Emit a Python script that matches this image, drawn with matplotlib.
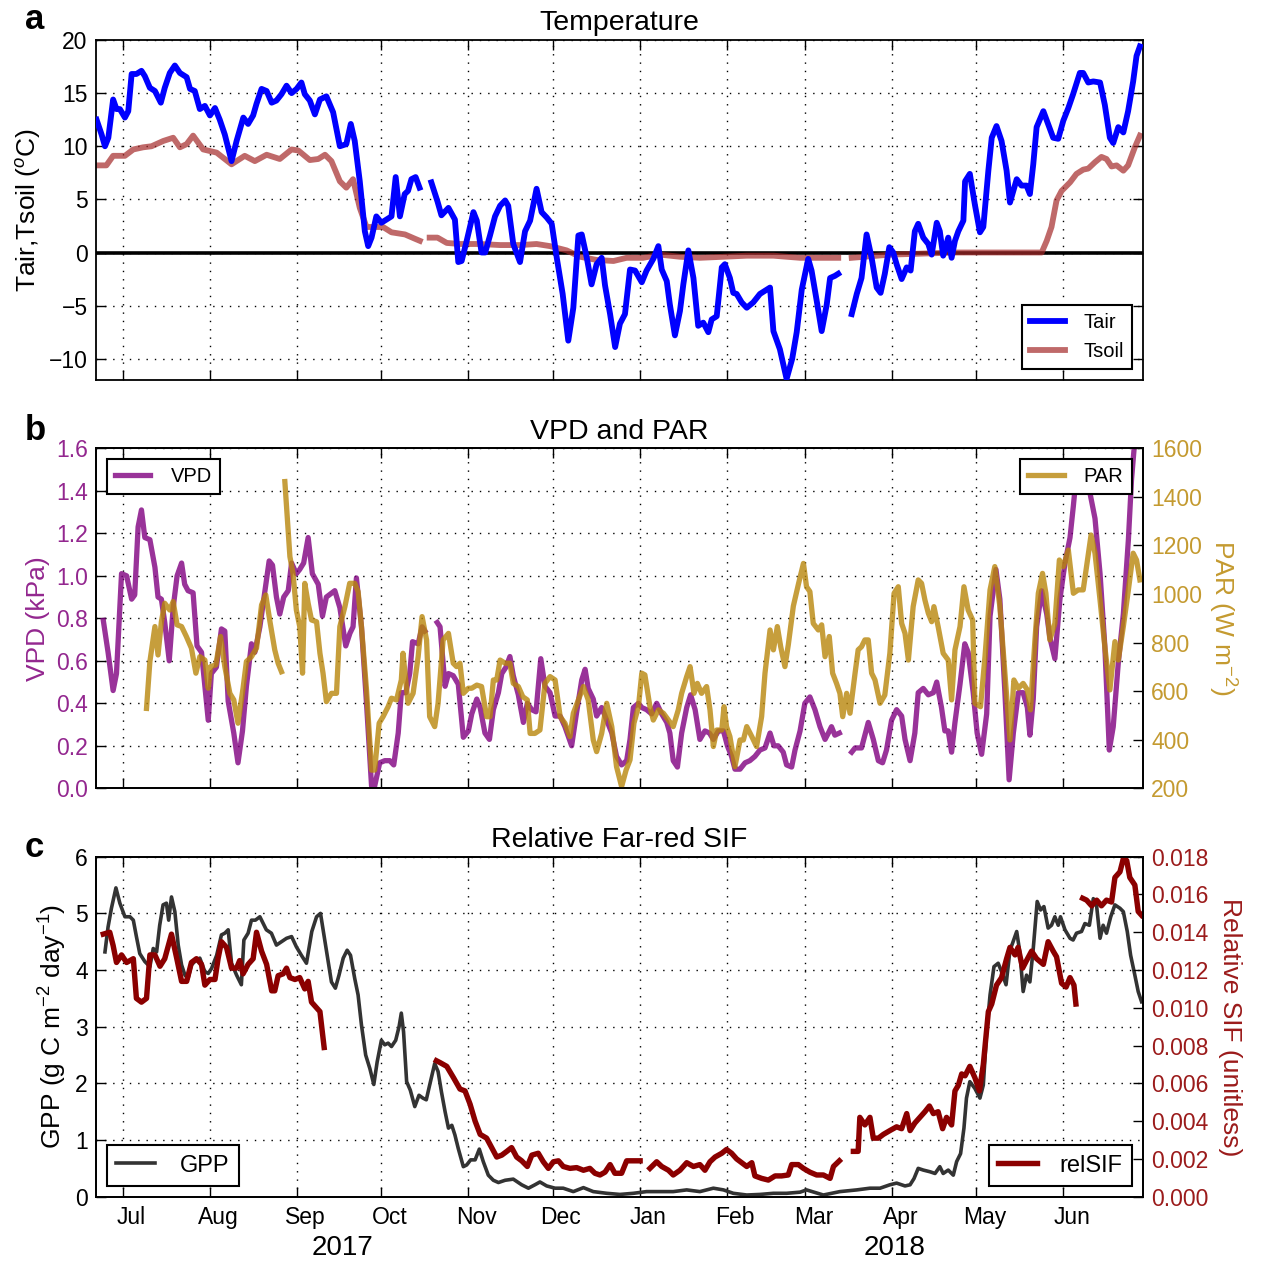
import numpy as np
import matplotlib
matplotlib.use("Agg")
import matplotlib.pyplot as plt
import matplotlib.dates as mdates
from matplotlib.ticker import NullFormatter, FormatStrFormatter
from datetime import datetime, timedelta

nan = np.nan
# day offsets are days since 2017-07-01
T0 = datetime(2017, 7, 1)

# ---------------- Panel a: temperature ----------------
tair_day = [-9.5, -7.7, -6.5, -5.3, -3.6, -2.4, -1.2, 0.6, 1.8, 3.0, 4.7, 6.5, 7.7, 9.5, 11.3, 13.4, 14.8, 16.6,
            18.4, 20.2, 22.6, 23.8, 25.5, 27.3, 29.1, 30.9, 32.7, 34.4, 36.2, 38.6, 40.4, 42.8, 44.5, 46.3, 47.5,
            49.3, 51.1, 52.9, 54.6, 56.4, 58.2, 60.0, 61.8, 63.5, 64.7, 66.5, 68.3, 70.1, 72.4, 74.8, 77.2, 79.5,
            81.1, 82.5, 84.3, 86.1, 87.3, 88.5, 90.2, 92.0, 93.8, 95.6, 97.1, 98.6, 100.3, 101.5, 102.7, 104.2,
            105.6, 107.7,
            109.8, 112.0, 113.4, 115.9, 118.2, 119.4, 120.6, 122.4, 124.8, 126.0, 127.7, 129.0, 130.7, 132.5,
            134.3, 136.1, 137.2, 139.0, 141.4, 143.2, 145.0, 147.3, 149.1, 150.9, 152.7, 154.5, 156.6, 158.6,
            160.4, 162.2, 163.4, 165.2, 166.9, 168.7, 170.5, 171.7, 173.5, 175.3, 177.0, 178.8, 180.6, 182.4,
            184.8, 186.5, 188.9, 190.7, 191.9, 193.7, 194.8, 196.6, 198.4, 199.6, 201.4, 203.2, 204.9, 206.7,
            208.5, 209.7, 211.5, 213.3, 214.4, 216.2, 217.4, 218.6, 220.4, 222.2, 224.5, 226.9, 228.7, 230.5,
            231.7, 234.0, 236.4, 238.4, 240.0, 241.8, 244.1, 245.3, 247.1, 248.9, 250.7, 251.9, 253.6, 254.8,
            257.0,
            259.6, 261.4, 263.1, 264.9, 266.7, 268.5, 269.9, 271.4, 273.0, 274.4, 275.6, 277.4, 279.2, 280.6,
            282.1, 283.3, 285.1, 286.9, 288.1, 289.9, 291.0, 292.2, 294.0, 295.2, 296.4, 297.6, 299.4, 300.0,
            301.7, 303.5, 305.3, 306.5, 308.3, 309.5, 311.2, 313.0, 314.8, 316.0, 317.2, 318.4, 320.1, 321.9,
            323.1, 324.3, 325.5, 327.9, 329.6, 331.4, 333.2, 335.0, 336.8, 338.5, 340.9, 342.1, 343.9, 345.7,
            348.1, 349.8, 351.6, 352.8, 354.6, 356.4, 358.1, 359.9, 361.1, 362.3]
tair = [12.5, 11.1, 10.0, 10.8, 14.4, 13.5, 13.5, 12.7, 13.3, 16.8, 16.8, 17.1, 16.6, 15.5, 15.2, 14.1, 15.5, 16.9,
        17.6, 16.9, 16.5, 15.4, 15.2, 13.5, 13.8, 12.9, 13.6, 12.5, 11.1, 8.6, 10.5, 12.7, 12.1, 12.9, 14.0,
        15.4, 15.2, 14.1, 14.3, 14.9, 15.7, 15.0, 15.4, 16.0, 14.9, 14.3, 13.0, 14.4, 14.7, 13.2, 10.0, 10.2,
        12.1, 10.5, 6.7, 2.0, 0.6, 1.4, 3.4, 2.8, 3.1, 3.4, 7.1, 3.4, 5.5, 5.8, 6.9, 7.1,
        6.1, nan,
        6.6, 4.8, 3.5, 4.2, 3.1, -0.9, -0.8, 1.1, 3.8, 3.0, 0.0, 0.0, 1.6, 3.4,
        4.4, 4.9, 4.4, 0.8, -0.9, 2.0, 3.0, 6.0, 3.8, 3.3, 2.7, -0.5, -3.9, -8.3,
        -5.2, 1.6, 1.7, -0.5, -3.0, -1.1, -0.5, -3.1, -5.8, -8.9, -6.7, -5.8, -1.6, -1.7,
        -2.8, -1.7, -0.6, 0.6, -1.6, -2.7, -4.9, -7.8, -5.5, -3.0, 0.2, -2.4, -6.9, -6.6,
        -7.5, -6.3, -6.0, -1.4, -1.1, -2.4, -3.8, -3.9, -4.7, -5.2, -4.7, -3.9, -3.6, -3.3,
        -7.4, -9.1, -11.9, -10.0, -7.5, -3.5, -0.6, -1.7, -4.5, -7.4, -4.9, -2.4, -2.2, -2.0,
        nan,
        -5.8, -3.9, -2.4, 1.7, -0.5, -3.3, -3.8, -2.0, 0.5, 0.0, -1.1, -2.5, -1.4, -1.7,
        2.0, 2.7, 1.4, 0.8, -0.2, 2.8, 2.0, -0.3, 1.4, -0.5, 1.1, 2.0, 3.0, 6.7,
        7.4, 4.5, 1.9, 2.4, 7.7, 10.8, 11.9, 10.5, 7.7, 4.7, 5.8, 6.9, 6.3, 6.3,
        5.5, 8.3, 11.8, 13.3, 12.1, 10.8, 10.7, 12.4, 13.6, 14.9, 16.9, 16.9, 16.0, 16.1,
        16.0, 13.9, 10.8, 10.3, 11.8, 11.3, 13.3, 16.1, 18.5, 19.4]

tsoil_day = [-9.5, -6.0, -3.6, 0.6, 3.6, 7.1, 10.1, 14.3, 17.8, 20.2, 22.6, 24.9, 28.5, 33.3, 38.6, 43.3, 46.9,
             51.1, 55.8, 60.0, 62.4, 66.5, 69.5, 71.9, 74.2, 77.2, 79.5, 81.9, 84.3, 86.7, 89.7, 92.6, 95.6,
             100.4, 103.9, 105.7, 107.5,
             109.2, 112.0, 115.3, 120.0, 127.1, 134.3, 141.4, 147.3, 152.1, 158.0, 162.8, 168.7, 174.7, 179.4,
             185.3, 191.3, 198.4, 205.5, 213.9, 222.2, 231.7, 241.2, 254.8, 257.0,
             259.6, 273.2, 285.1, 297.0, 327.3, 329.1, 330.8, 332.6, 334.4, 337.4, 339.7, 342.1, 343.9, 346.3,
             348.6, 350.4, 352.2, 354.0, 356.4, 358.1, 360.5, 362.3]
tsoil = [8.2, 8.2, 9.1, 9.1, 9.7, 9.9, 10.0, 10.5, 10.8, 9.9, 10.2, 11.0, 9.7, 9.4, 8.3, 9.1, 8.6,
         9.2, 8.8, 9.7, 9.6, 8.7, 8.8, 9.2, 8.6, 6.7, 6.1, 6.9, 4.2, 2.4, 2.4, 2.4, 1.9,
         1.7, 1.3, 1.1, nan,
         1.4, 1.4, 0.9, 0.8, 0.8, 0.7, 0.7, 0.8, 0.6, 0.2, -0.4, -0.7, -0.8, -0.5,
         -0.5, -0.2, -0.4, -0.5, -0.4, -0.3, -0.3, -0.5, -0.5, nan,
         -0.5, -0.2, -0.1, 0.0, 0.0, 1.1, 2.4, 4.9, 5.8, 6.6, 7.4, 7.8, 7.9, 8.5,
         9.0, 8.8, 8.1, 8.2, 7.7, 8.2, 9.9, 11.0]

# ---------------- Panel b: VPD and PAR ----------------
vpd_day = [-7.1, -5.4, -3.6, -2.4, -0.6, 1.2, 3.0, 4.1, 5.3, 6.5, 7.7, 9.5, 11.3, 12.4, 13.6, 14.8, 16.4, 17.8,
           19.2, 20.8, 21.9, 23.1, 24.9, 26.3, 27.9, 29.1, 30.3, 31.4, 33.2, 35.0, 36.2, 37.4, 39.4, 40.9, 42.5,
           43.9, 45.7, 46.9, 48.7, 50.5, 52.0, 53.2, 54.6, 55.8, 57.2, 58.8, 60.0, 61.7, 62.9, 64.3, 65.9, 67.4,
           69.5, 71.0, 72.4, 75.4, 77.2, 79.3, 80.8, 81.9, 83.1, 84.9, 86.7, 88.5, 89.6, 91.4, 93.2, 95.0, 96.4,
           98.0, 99.1, 100.7, 102.1, 103.1, 105.1, 106.5, 107.5, 109.7,
           111.9, 112.9, 114.7, 115.9, 117.6, 119.4, 121.2, 123.0, 124.2, 126.0, 127.2, 128.9, 130.5, 131.9,
           133.7, 134.9, 136.4, 137.8, 139.0, 140.8, 142.6, 144.0, 145.6, 147.1, 148.8, 150.3, 152.1, 153.9,
           155.7, 157.4, 159.8, 161.6, 163.4, 164.6, 165.7, 167.5, 168.7, 170.5, 172.3, 174.1, 175.8, 177.6,
           179.4, 180.6, 181.8, 183.6, 184.8, 186.5, 188.3, 190.1, 191.9, 193.7, 194.8, 196.0, 197.5, 199.0,
           200.8, 202.2, 203.8, 205.5, 207.3, 208.9, 210.3, 212.1, 213.9, 215.3, 216.8, 218.0, 219.8, 221.6,
           223.3, 225.1, 226.9, 228.7, 230.5, 231.9, 233.4, 235.2, 236.4, 238.2, 239.4, 241.2, 242.9, 244.7,
           246.5, 248.3, 250.1, 251.3, 252.4, 253.6, 255.2, 257.4,
           259.6, 260.8, 263.1, 265.5, 267.3, 269.1, 270.6, 272.0, 273.8, 275.6, 277.4, 278.6, 280.4, 282.1,
           283.3, 285.1, 286.9, 288.7, 289.9, 291.6, 292.8, 294.0, 295.2, 296.4, 298.2, 299.9, 301.1, 302.9,
           304.3, 305.9, 307.7, 308.9, 311.0, 312.4, 314.2, 315.7, 317.2, 319.0, 320.7, 322.2, 323.1, 324.3,
           325.5, 327.3, 329.1, 330.2, 332.0, 333.8, 335.6, 337.4, 338.6, 339.7, 342.1, 344.5, 346.3, 348.1,
           349.8, 351.4, 352.8, 354.6, 356.4, 358.2, 359.3, 360.5]
vpd = [0.79, 0.64, 0.46, 0.54, 1.01, 1.00, 0.89, 0.91, 1.23, 1.31, 1.18, 1.17, 1.04, 0.90, 0.89, 0.78, 0.60, 0.85,
       1.00, 1.06, 0.96, 0.93, 0.92, 0.67, 0.64, 0.48, 0.32, 0.54, 0.57, 0.75, 0.74, 0.41, 0.26, 0.12, 0.27,
       0.48, 0.68, 0.64, 0.76, 0.93, 1.07, 1.05, 0.90, 0.82, 0.90, 0.93, 1.06, 1.01, 1.03, 1.06, 1.18, 1.01,
       0.96, 0.81, 0.90, 0.93, 0.85, 0.67, 0.73, 0.76, 0.99, 0.76, 0.40, 0.01, 0.01, 0.12, 0.13, 0.13, 0.11,
       0.26, 0.45, 0.45, 0.54, 0.69, 0.68, 0.76, 0.74, nan,
       0.78, 0.76, 0.48, 0.54, 0.53, 0.49, 0.24, 0.27, 0.35, 0.42, 0.38, 0.26, 0.23, 0.37,
       0.45, 0.54, 0.57, 0.62, 0.53, 0.44, 0.31, 0.40, 0.37, 0.36, 0.61, 0.48, 0.45, 0.34,
       0.34, 0.29, 0.20, 0.36, 0.51, 0.56, 0.47, 0.42, 0.34, 0.38, 0.32, 0.26, 0.15, 0.11,
       0.13, 0.23, 0.38, 0.40, 0.38, 0.37, 0.35, 0.40, 0.35, 0.31, 0.26, 0.13, 0.10, 0.26,
       0.38, 0.44, 0.37, 0.23, 0.27, 0.26, 0.23, 0.27, 0.27, 0.20, 0.15, 0.09, 0.09, 0.12,
       0.13, 0.15, 0.18, 0.19, 0.26, 0.20, 0.20, 0.17, 0.11, 0.10, 0.18, 0.27, 0.40, 0.43,
       0.37, 0.29, 0.23, 0.26, 0.29, 0.25, 0.26, nan,
       0.17, 0.19, 0.19, 0.31, 0.23, 0.13, 0.12, 0.18, 0.32, 0.37, 0.34, 0.23, 0.13, 0.26,
       0.45, 0.47, 0.44, 0.45, 0.50, 0.38, 0.27, 0.27, 0.17, 0.31, 0.49, 0.68, 0.64, 0.45,
       0.26, 0.16, 0.35, 0.81, 1.03, 0.89, 0.45, 0.04, 0.26, 0.45, 0.45, 0.38, 0.25, 0.42,
       0.76, 0.93, 0.82, 0.71, 0.61, 0.89, 1.06, 1.18, 1.33, 1.48, 1.48, 1.39, 1.27, 1.01,
       0.67, 0.18, 0.29, 0.59, 0.82, 1.17, 1.45, 1.64]

par_day = [8.3, 9.5, 11.3, 12.4, 13.6, 14.8, 16.6, 17.8, 19.2, 20.8, 22.5, 24.3, 25.9, 27.3, 29.1, 30.3, 31.1,
           33.0, 34.7, 36.2, 38.0, 39.4, 40.9, 42.7, 43.9, 45.7, 47.5, 49.3, 50.8, 52.3, 54.0, 55.2, 56.4, 57.0,
           57.6, 59.4, 60.5, 61.7, 62.9, 63.9, 64.7, 65.9, 67.1, 68.9, 70.1, 71.2, 72.4, 74.2, 76.0, 77.2, 79.0,
           80.7, 82.5, 83.7, 84.9, 86.7, 88.5, 89.6, 91.2, 92.6, 94.4, 95.6, 97.4, 99.1, 99.7, 101.5, 103.3,
           105.1, 106.5, 108.1, 109.2, 111.0, 112.2, 114.0, 115.9, 117.6, 118.8, 120.0, 121.2, 123.0, 124.2,
           126.0, 127.7, 129.5, 130.7, 131.9, 133.1, 134.3, 136.1, 137.8, 139.0, 140.8, 142.4, 144.0, 145.0,
           146.7, 148.5, 150.3, 152.1, 153.9, 155.7, 157.4, 159.2, 160.4, 162.2, 164.0, 165.7, 167.5, 168.7,
           170.5, 172.3, 174.1, 175.8, 177.6, 179.2, 180.6, 182.0, 183.6, 184.8, 185.9, 187.7, 188.9, 190.7,
           192.5, 194.3, 196.0, 197.8, 199.0, 200.8, 202.0, 203.4, 204.6, 206.1, 207.9, 209.1, 210.3, 211.5,
           213.3, 214.1, 215.0, 216.2, 218.0, 219.8, 221.0, 222.2, 224.0, 225.7, 227.5, 228.7, 230.5, 231.7,
           233.1, 234.3, 235.8, 237.0, 238.8, 240.6, 242.4, 243.5, 244.7, 245.9, 247.7, 248.9, 250.1, 251.6,
           252.8, 254.2, 255.4, 256.4, 257.8, 259.0, 260.8, 261.9, 263.1, 264.3, 265.5, 266.7, 267.9, 269.7,
           271.4, 273.2, 274.7, 276.2, 277.4, 278.6, 279.8, 281.5, 283.3, 284.5, 285.7, 286.9, 288.1, 288.9,
           290.4, 292.2, 294.0, 295.2, 296.4, 298.2, 299.6, 301.1, 302.7, 303.5, 305.5, 307.1, 308.9, 310.6,
           312.4, 314.2, 316.0, 317.4, 319.0, 320.7, 322.2, 323.3, 324.9, 326.1, 327.6, 328.8, 330.2, 332.0,
           333.6, 335.0, 336.8, 338.6, 340.3, 342.1, 343.3, 344.9, 346.3, 348.1, 349.8, 351.6, 353.4, 354.6,
           356.4, 358.2, 359.9, 361.1, 362.3]
par = [529, 722, 866, 749, 886, 962, 934, 969, 873, 866, 825, 777, 674, 742, 728, 612, 701,
       708, 825, 701, 591, 564, 468, 612, 722, 742, 777, 955, 996, 886, 770, 715, 680, nan,
       1463, 1154, 1085, 934, 866, 674, 1044, 962, 893, 886, 756, 674, 557, 591, 591, 866, 948,
       1044, 1044, 1010, 866, 605, 275, 275, 468, 495, 536, 571, 564, 646, 756, 550, 591,
       742, 907, 811, 495, 454, 550, 811, 838, 715, 701, 715, 591, 612, 612,
       625, 619, 495, 495, 646, 646, 728, 715, 715, 632, 619, 577, 564, 426,
       426, 440, 632, 660, 646, 495, 468, 413, 509, 564, 619, 564, 399, 351,
       426, 550, 454, 289, 207, 275, 317, 468, 536, 674, 667, 536, 481, 523,
       509, 481, 454, 523, 591, 660, 701, 591, 632, 591, 619, 523, 372, 440,
       440, 536, 454, 413, 289, 399, 399, 454, 413, 372, 495, 674, 852, 770,
       866, 783, 701, 790, 950, 1040, 1126, 1030, 1010, 879, 852, 873, 742, 825,
       674, 632, 591, 495, 591, 509, 674, 770, 783, 811, 811, 674, 646, 550,
       584, 756, 1003, 1030, 879, 838, 728, 948, 1058, 1044, 975, 921, 886, 948,
       866, 756, 728, 564, 770, 866, 1030, 934, 893, 550, 536, 742, 1017, 1113,
       948, 674, 399, 646, 612, 632, 605, 523, 811, 1003, 1085, 1003, 811, 879,
       1140, 1113, 1181, 1003, 1017, 1017, 1113, 1243, 1168, 975, 783, 605, 804, 728,
       866, 1017, 1168, 1140, 1058]

# ---------------- Panel c: GPP and relative SIF ----------------
gpp_day = [-6.5, -5.4, -4.2, -2.6, -1.2, 0.6, 2.4, 3.6, 4.7, 5.9, 7.7, 9.5, 10.7, 11.9, 13.0, 14.2, 15.4, 16.2,
           17.2, 18.4, 19.6, 20.8, 22.0, 23.1, 24.3, 25.5, 27.3, 29.1, 30.3, 31.5, 33.3, 35.0, 36.2, 37.4, 38.6,
           40.4, 42.1, 43.0, 44.5, 45.7, 47.1, 48.7, 49.9, 51.0, 52.8, 54.6, 56.4, 58.2, 60.0, 61.7, 63.5, 65.3,
           67.2, 68.9, 70.3, 71.9, 73.0, 74.2, 75.6, 76.9, 78.4, 79.8, 81.0, 82.5, 83.7, 84.9, 86.4, 87.9, 89.3,
           90.5, 92.0, 93.2, 94.4, 95.6, 97.1, 98.3, 99.1, 99.9, 101.0, 102.3, 103.9, 105.4, 106.8, 108.0, 109.2,
           111.0, 112.2, 113.4, 114.7, 115.9, 117.1, 118.2, 119.4, 121.2, 122.4, 123.8, 125.4, 126.9, 128.3,
           130.1, 131.9, 133.7, 136.1, 139.0, 142.0, 144.4, 146.7, 148.5, 150.9, 153.9, 156.8, 160.4, 164.0,
           167.5, 172.3, 177.0, 181.8, 186.5, 191.3, 196.0, 200.8, 205.5, 210.3, 213.9, 217.4, 222.2, 226.9,
           231.7, 236.4, 241.2, 243.5, 249.5, 255.4, 261.4, 266.1, 269.7, 273.2, 275.6, 278.6, 280.4, 281.8,
           283.3, 285.1, 287.5, 289.3, 291.0, 292.2, 294.0, 295.8, 297.0, 298.4, 299.6, 300.5, 301.7, 303.5,
           305.3, 306.5, 307.7, 308.9, 310.3, 311.8, 313.0, 314.6, 316.0, 316.9, 318.4, 319.5, 320.7, 321.9,
           323.1, 324.3, 325.7, 326.9, 328.1, 329.6, 330.8, 332.0, 333.2, 334.0, 335.6, 337.4, 338.5, 339.7,
           341.5, 342.7, 344.3, 345.7, 346.9, 348.1, 349.2, 350.4, 351.9, 353.4, 355.2, 356.4, 357.8, 359.0,
           360.5, 361.7, 362.9]
gpp = [4.32, 4.76, 5.09, 5.45, 5.18, 4.94, 4.94, 4.88, 4.59, 4.29, 4.15, 4.06, 4.38, 4.32, 4.79, 5.15, 5.18, 4.88,
       5.29, 5.03, 4.44, 4.09, 3.91, 3.85, 4.09, 4.15, 4.21, 3.97, 3.94, 4.03, 4.26, 4.62, 4.65, 4.71, 4.12,
       3.91, 3.74, 4.53, 4.65, 4.88, 4.88, 4.94, 4.82, 4.71, 4.65, 4.44, 4.50, 4.56, 4.59, 4.41, 4.26, 4.12,
       4.68, 4.94, 5.00, 4.50, 4.15, 3.79, 3.68, 3.91, 4.21, 4.35, 4.26, 3.85, 3.56, 3.03, 2.50, 2.26, 1.98,
       2.38, 2.76, 2.68, 2.71, 2.65, 2.76, 3.00, 3.24, 2.91, 2.03, 1.88, 1.59, 1.79, 1.74, 1.71, 1.97,
       2.35, 2.21, 1.85, 1.50, 1.21, 1.26, 1.09, 0.85, 0.53, 0.56, 0.65, 0.65, 0.84, 0.62,
       0.38, 0.29, 0.25, 0.29, 0.31, 0.21, 0.15, 0.21, 0.26, 0.19, 0.15, 0.15, 0.09, 0.16,
       0.09, 0.06, 0.04, 0.06, 0.09, 0.09, 0.09, 0.12, 0.09, 0.15, 0.12, 0.06, 0.03, 0.04,
       0.06, 0.06, 0.08, 0.12, 0.03, 0.09, 0.12, 0.15, 0.15, 0.21, 0.24, 0.19, 0.21, 0.32,
       0.50, 0.47, 0.44, 0.41, 0.53, 0.41, 0.47, 0.38, 0.62, 0.76, 1.21, 1.74, 2.03, 1.91,
       1.74, 1.97, 2.91, 3.56, 4.06, 4.12, 3.97, 3.74, 4.35, 4.47, 4.68, 4.32, 3.62, 3.91,
       3.79, 4.38, 5.21, 5.06, 5.12, 4.74, 4.79, 4.94, 4.79, 4.94, 4.71, 4.56, 4.53, 4.65,
       4.68, 4.82, 4.79, 5.26, 5.12, 4.56, 4.79, 4.65, 4.94, 5.15, 5.09, 5.03, 4.68, 4.26,
       3.91, 3.62, 3.44]

sif_day = [-7.1, -4.8, -3.6, -2.4, -0.6, 1.2, 3.6, 4.7, 6.5, 8.3, 9.5, 11.3, 13.1, 14.8, 17.2, 19.1, 20.8, 22.6,
           24.3, 26.1, 27.9, 29.1, 30.9, 32.7, 33.8, 35.0, 36.8, 38.6, 40.4, 41.5, 42.7, 44.5, 46.3, 47.5, 49.3,
           51.1, 52.9, 54.0, 55.2, 57.0, 58.2, 59.4, 61.2, 62.9, 64.7, 65.9, 67.1, 68.9, 70.1, 71.6, 90.0,
           111.6, 112.9, 115.3, 117.7, 120.0, 121.8, 123.6, 125.4, 127.2, 129.5, 131.3, 133.1, 134.9, 136.7,
           138.4, 140.2, 142.0, 144.0, 145.6, 147.9, 149.7, 151.5, 153.3, 155.1, 156.8, 159.2, 161.6, 164.0,
           166.3, 168.1, 169.9, 171.7, 173.5, 175.2, 177.6, 179.4, 184.2, 186.0,
           187.7, 190.1, 191.9, 194.3, 196.0, 198.4, 200.8, 203.2, 205.5, 207.3, 209.1, 210.9, 213.3, 215.0,
           216.8, 218.6, 220.4, 222.2, 224.0, 225.1, 227.5, 229.9, 232.3, 234.6, 237.0, 238.2, 240.6, 242.4,
           244.7, 247.1, 249.5, 251.9, 253.1, 255.2, 257.7,
           260.2, 261.9, 262.5, 264.3, 266.1, 267.3, 269.1, 270.9, 273.2, 275.6, 277.4, 279.2, 280.4, 282.1,
           283.9, 285.7, 287.3, 288.7, 290.4, 292.0, 293.4, 295.2, 296.4, 297.6, 298.8, 300.0, 301.7, 303.5,
           305.1, 306.5, 308.3, 309.5, 311.2, 313.0, 314.8, 316.0, 317.8, 318.9, 320.5, 321.9, 323.7, 325.5,
           327.9, 329.6, 331.4, 332.6, 334.4, 336.0, 337.4, 338.8, 339.5, 340.7,
           341.9, 343.3, 345.1, 346.9, 348.6, 350.4, 352.2, 353.4, 355.2, 356.4, 357.6, 358.7, 360.5, 361.7,
           362.9]
sif = [0.0139, 0.0140, 0.0133, 0.0124, 0.0128, 0.0124, 0.0126, 0.0105, 0.0103, 0.0105, 0.0128, 0.0128, 0.0122,
       0.0126, 0.0139, 0.0126, 0.0114, 0.0114, 0.0124, 0.0126, 0.0123, 0.0112, 0.0115, 0.0115, 0.0126, 0.0135,
       0.0132, 0.0121, 0.0121, 0.0125, 0.0118, 0.0123, 0.0126, 0.0140, 0.0130, 0.0123, 0.0109, 0.0109, 0.0117,
       0.0118, 0.0121, 0.0116, 0.0115, 0.0116, 0.0110, 0.0114, 0.0103, 0.0100, 0.0098, 0.0079, nan,
       0.0072, 0.0071, 0.0069, 0.0063, 0.0057, 0.0056, 0.0049, 0.0040, 0.0033, 0.0031, 0.0026, 0.0021, 0.0022,
       0.0024, 0.0026, 0.0021, 0.0019, 0.0016, 0.0022, 0.0023, 0.00185, 0.0015, 0.00185, 0.0019, 0.0016,
       0.0015, 0.00154, 0.0014, 0.0015, 0.00124, 0.00115, 0.0013, 0.0017, 0.00124, 0.00124, 0.0019, 0.0019, nan,
       0.0015, 0.00185, 0.0016, 0.0014, 0.00115, 0.0014, 0.0018, 0.0016, 0.0017, 0.0014, 0.00185, 0.0021,
       0.0023, 0.0025, 0.0023, 0.0020, 0.0018, 0.0016, 0.0018, 0.0011, 0.00097, 0.00088, 0.0011, 0.0011,
       0.00115, 0.0017, 0.0017, 0.0015, 0.0013, 0.00115, 0.00115, 0.00097, 0.0016, 0.0019, nan,
       0.0024, 0.0024, 0.0042, 0.0038, 0.0042, 0.0031, 0.0031, 0.0033, 0.0035, 0.0037, 0.0036, 0.0044, 0.0035,
       0.0039, 0.0042, 0.0045, 0.0048, 0.0044, 0.0045, 0.0036, 0.0042, 0.0038, 0.0056, 0.0059, 0.0065, 0.0064,
       0.0069, 0.0063, 0.0056, 0.0070, 0.0098, 0.0102, 0.0112, 0.0116, 0.0126, 0.0132, 0.0128, 0.0132, 0.0121,
       0.0125, 0.0130, 0.0126, 0.0123, 0.0135, 0.0130, 0.0127, 0.0113, 0.0111, 0.0116, 0.0112, 0.0102, nan,
       0.0158, 0.0157, 0.0154, 0.0157, 0.0154, 0.0157, 0.0156, 0.0169, 0.0172, 0.0179, 0.0178, 0.0169, 0.0165,
       0.0151, 0.0149]

year_labels = ["2017", "2018"]
year_label_day = [78, 275]


def to_dates(days):
    return [T0 + timedelta(days=float(d)) for d in days]


plt.rcParams['font.family'] = ['Liberation Sans', 'DejaVu Sans']
plt.rcParams['mathtext.fontset'] = 'custom'
plt.rcParams['mathtext.rm'] = 'Liberation Sans'
plt.rcParams['mathtext.it'] = 'Liberation Sans:italic'
plt.rcParams['axes.linewidth'] = 1.3

TICK_FS = 16.5
LABEL_FS = 19
TITLE_FS = 20.5

C_TAIR = '#0000ff'
C_TSOIL = 'brown'
C_VPD = 'purple'
C_PAR = 'darkgoldenrod'
C_VPD_TXT = '#93278f'
C_PAR_TXT = '#c49a30'
C_GPP = '#333333'
C_SIF = '#8b0000'
C_SIF_TXT = '#9b1b1b'

fig = plt.figure(figsize=(12.61, 12.64), dpi=100)
W, H = 1261.0, 1264.0
x0, x1 = 96.0, 1142.7


def make_axes(top_px, bot_px):
    return fig.add_axes([x0 / W, 1 - bot_px / H, (x1 - x0) / W, (bot_px - top_px) / H])


axA = make_axes(40, 380)
axB = make_axes(448.3, 788.3)
axC = make_axes(856.7, 1196.7)

xlim = (T0 + timedelta(days=-9.7), T0 + timedelta(days=363.3))


def style_x(ax, show_labels):
    ax.set_xlim(*xlim)
    ax.xaxis.set_major_locator(mdates.MonthLocator())
    ax.xaxis.set_major_formatter(NullFormatter())
    ax.xaxis.set_minor_locator(mdates.MonthLocator(bymonthday=4))
    ax.xaxis.set_minor_formatter(mdates.DateFormatter('%b') if show_labels else NullFormatter())
    ax.tick_params(axis='x', which='major', direction='in', length=7, width=1, top=True, bottom=True)
    ax.tick_params(axis='x', which='minor', length=0, labelsize=TICK_FS, pad=7, top=False)
    ax.tick_params(axis='y', which='major', direction='in', length=7, width=1, labelsize=TICK_FS, pad=6)
    ax.grid(True, which='major', color='k', linestyle=(0, (1, 5)), linewidth=1.0)
    ax.set_axisbelow(True)


def style_legend(leg):
    fr = leg.get_frame()
    fr.set_edgecolor('k')
    fr.set_linewidth(1.5)
    fr.set_alpha(1)


# ---------------- Panel a ----------------
style_x(axA, False)
axA.axhline(0, color='k', lw=2.6, zorder=1.5)
axA.plot(to_dates(tair_day), tair, color=C_TAIR, lw=4.2, label='Tair', zorder=3)
axA.plot(to_dates(tsoil_day), tsoil, color=C_TSOIL, alpha=0.7, lw=4.2, label='Tsoil', zorder=2.5)
axA.set_ylim(-12, 20)
axA.set_yticks(np.arange(-10, 21, 5))
axA.tick_params(axis='y', right=True)
axA.set_ylabel('Tair,Tsoil ($^o$C)', fontsize=LABEL_FS)
axA.set_title('Temperature', fontsize=TITLE_FS, pad=7)
leg = axA.legend(loc='lower right', fontsize=14.5, fancybox=False, handlelength=1.75, handletextpad=0.9,
                 borderaxespad=0.55)
style_legend(leg)

# ---------------- Panel b ----------------
style_x(axB, False)
axB.plot(to_dates(vpd_day), vpd, color=C_VPD, alpha=0.8, lw=3.8, label='VPD')
axB.set_ylim(0, 1.6)
axB.set_yticks(np.arange(0, 1.61, 0.2))
axB.yaxis.set_major_formatter(FormatStrFormatter('%.1f'))
axB.tick_params(axis='y', labelcolor=C_VPD_TXT, right=False)
axB.set_ylabel('VPD (kPa)', fontsize=LABEL_FS, color=C_VPD_TXT)
axB.set_title('VPD and PAR', fontsize=TITLE_FS, pad=7)
leg = axB.legend(loc='upper left', fontsize=14.5, fancybox=False, handlelength=1.75, handletextpad=1.0,
                 borderaxespad=0.55)
style_legend(leg)

axB2 = axB.twinx()
axB2.plot(to_dates(par_day), par, color=C_PAR, alpha=0.8, lw=3.8, label='PAR')
axB2.set_xlim(*xlim)
axB2.set_ylim(200, 1600)
axB2.set_yticks(np.arange(200, 1601, 200))
axB2.tick_params(axis='y', direction='in', length=7, width=1, labelsize=TICK_FS, pad=6, labelcolor=C_PAR_TXT)
axB2.set_ylabel('PAR (W m$^{-2}$)', fontsize=LABEL_FS, color=C_PAR_TXT, rotation=270, labelpad=26)
leg = axB2.legend(loc='upper right', fontsize=14.5, fancybox=False, handlelength=1.75, handletextpad=1.0,
                  borderaxespad=0.55)
style_legend(leg)

# ---------------- Panel c ----------------
style_x(axC, True)
axC.plot(to_dates(gpp_day), gpp, color=C_GPP, lw=2.6, label='GPP')
axC.set_ylim(0, 6)
axC.set_yticks(np.arange(0, 6.1, 1))
axC.tick_params(axis='y', right=False)
axC.set_ylabel('GPP (g C m$^{-2}$ day$^{-1}$)', fontsize=LABEL_FS)
axC.set_title('Relative Far-red SIF', fontsize=TITLE_FS, pad=7)
leg = axC.legend(loc='lower left', fontsize=17, fancybox=False, handlelength=1.65, handletextpad=1.05,
                 borderaxespad=0.45)
style_legend(leg)

axC2 = axC.twinx()
axC2.plot(to_dates(sif_day), sif, color=C_SIF, lw=3.9, label='relSIF')
axC2.set_xlim(*xlim)
axC2.set_ylim(0, 0.018)
axC2.set_yticks(np.arange(0, 0.0181, 0.002))
axC2.yaxis.set_major_formatter(FormatStrFormatter('%.3f'))
axC2.tick_params(axis='y', direction='in', length=7, width=1, labelsize=TICK_FS, pad=6, labelcolor=C_SIF_TXT)
axC2.set_ylabel('Relative SIF (unitless)', fontsize=LABEL_FS, color=C_SIF_TXT, rotation=270, labelpad=24)
leg = axC2.legend(loc='lower right', fontsize=17, fancybox=False, handlelength=1.65, handletextpad=0.95,
                  borderaxespad=0.45)
style_legend(leg)

# year labels under the month labels
for lab, d in zip(year_labels, year_label_day):
    axC.text(T0 + timedelta(days=d), -0.151, lab, transform=axC.get_xaxis_transform(),
             ha='center', va='center', fontsize=20)

# panel letters
for letter, ypx in zip(['a', 'b', 'c'], [29, 440, 857]):
    fig.text(25 / W, 1 - ypx / H, letter, fontsize=25, fontweight='bold', ha='left', va='baseline')

fig.savefig('out.png', dpi=100)
